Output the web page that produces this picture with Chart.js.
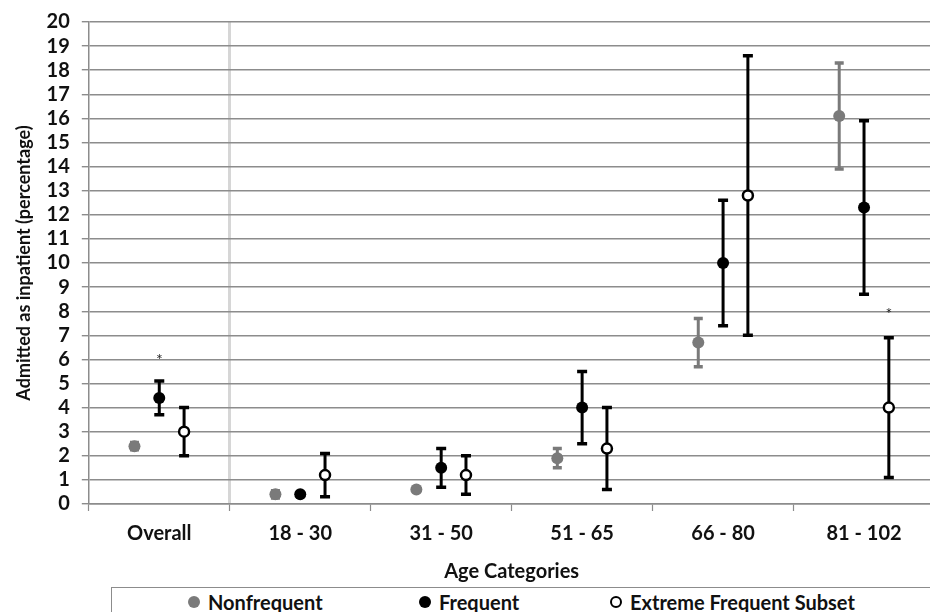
<!DOCTYPE html>
<html>
<head>
<meta charset="utf-8">
<script src="https://cdn.jsdelivr.net/npm/chart.js@4.4.1/dist/chart.umd.min.js"></script>
<style>
  body { margin: 0; background: #fff; overflow: hidden; width: 930px; height: 612px; position: relative; }
  #wrap { position: absolute; left: 0; top: 0; width: 942px; height: 585px; }
  #legend { position: absolute; left: 111px; top: 587px; width: 860px; height: 40px;
    border: 1.5px solid #8c8c8c; font: bold 20px Lato, sans-serif; color: #111; }
  .item { position: absolute; top: 2px; display: flex; align-items: center; }
  .dot { width: 12px; height: 12px; border-radius: 50%; margin-right: 8px; box-sizing: border-box; }
</style>
</head>
<body>
<div id="wrap"><canvas id="chart"></canvas></div>
<div id="legend"></div>
<script>
const categories = ["Overall", "18 - 30", "31 - 50", "51 - 65", "66 - 80", "81 - 102"];
const yTicks = [0, 20, 1];

const nonfreq   = [2.4, 0.4, 0.6, 1.9, 6.7, 16.1];
const nonfreqLo = [2.25, 0.25, 0.55, 1.5, 5.7, 13.9];
const nonfreqHi = [2.55, 0.55, 0.65, 2.3, 7.7, 18.3];

const freq   = [4.4, 0.4, 1.5, 4.0, 10.0, 12.3];
const freqLo = [3.7, 0.35, 0.7, 2.5, 7.4, 8.7];
const freqHi = [5.1, 0.45, 2.3, 5.5, 12.6, 15.9];

const extreme   = [3.0, 1.2, 1.2, 2.3, 12.8, 4.0];
const extremeLo = [2.0, 0.3, 0.4, 0.6, 7.0, 1.1];
const extremeHi = [4.0, 2.1, 2.0, 4.0, 18.6, 6.9];

// asterisks: category index, series index, height
const starCat = [0, 5];
const starSeries = [1, 2];
const starY = [6.1, 8.0];

const seriesNames = ["Nonfrequent", "Frequent", "Extreme Frequent Subset"];
const offsets = [-0.176, 0, 0.176];
const gray = "#7a7a7a";
const FONT = "Lato";

function pts(vals, s) {
  return vals.map((v, i) => ({ x: i + offsets[s], y: v }));
}

const errors = [
  { lo: nonfreqLo, hi: nonfreqHi, color: gray, cap: 4.5 },
  { lo: freqLo, hi: freqHi, color: "#000", cap: 5 },
  { lo: extremeLo, hi: extremeHi, color: "#000", cap: 5 },
];

const errorBars = {
  id: "errorBars",
  beforeDatasetsDraw(chart) {
    const { ctx, scales: { x, y } } = chart;
    ctx.save();
    errors.forEach((e, s) => {
      ctx.strokeStyle = e.color;
      e.lo.forEach((lo, i) => {
        const px = x.getPixelForValue(i + offsets[s]);
        const y1 = y.getPixelForValue(lo);
        const y2 = y.getPixelForValue(e.hi[i]);
        ctx.lineWidth = 3;
        ctx.beginPath();
        ctx.moveTo(px, y1); ctx.lineTo(px, y2);
        ctx.stroke();
        ctx.lineWidth = 3.5;
        ctx.beginPath();
        ctx.moveTo(px - e.cap, y1); ctx.lineTo(px + e.cap, y1);
        ctx.moveTo(px - e.cap, y2); ctx.lineTo(px + e.cap, y2);
        ctx.stroke();
      });
    });
    ctx.restore();
  },
  afterDatasetsDraw(chart) {
    const { ctx, scales: { x, y } } = chart;
    ctx.save();
    ctx.fillStyle = "#222";
    ctx.font = "16px " + FONT;
    ctx.textAlign = "center";
    ctx.textBaseline = "middle";
    starCat.forEach((c, k) => {
      ctx.fillText("*", x.getPixelForValue(c + offsets[starSeries[k]]), y.getPixelForValue(starY[k]) + 3);
    });
    ctx.restore();
  }
};

new Chart(document.getElementById("chart"), {
  type: "scatter",
  data: {
    datasets: [
      { label: seriesNames[0], data: pts(nonfreq, 0), pointRadius: 6, pointHoverRadius: 6,
        backgroundColor: gray, borderColor: gray, borderWidth: 0 },
      { label: seriesNames[1], data: pts(freq, 1), pointRadius: 6, pointHoverRadius: 6,
        backgroundColor: "#000", borderColor: "#000", borderWidth: 0 },
      { label: seriesNames[2], data: pts(extreme, 2), pointRadius: 5, pointHoverRadius: 5,
        backgroundColor: "#fff", borderColor: "#000", borderWidth: 2.5 },
    ],
  },
  options: {
    responsive: true,
    maintainAspectRatio: false,
    animation: false,
    layout: { padding: { top: 4, right: 0, left: 13, bottom: 1 } },
    plugins: { legend: { display: false }, tooltip: { enabled: false } },
    scales: {
      x: {
        type: "linear",
        min: -0.5,
        max: 5.5,
        afterBuildTicks: (scale) => { scale.ticks = categories.map((c, i) => ({ value: i })); },
        ticks: {
          autoSkip: false, maxRotation: 0, padding: 11,
          color: "#111", font: { family: FONT, weight: "bold", size: 20 },
          callback: (v, i) => categories[i],
        },
        grid: {
          offset: true,
          drawOnChartArea: true,
          color: (c) => (c.index === 1 ? "#d6d6d6" : "rgba(0,0,0,0)"),
          lineWidth: (c) => (c.index === 1 ? 3 : 1),
          tickColor: "#8c8c8c",
          tickWidth: 1.2,
          tickLength: 7,
        },
        border: { color: "#8c8c8c", width: 1.5 },
        title: {
          display: true, text: "Age Categories", color: "#111",
          font: { family: FONT, weight: "bold", size: 20 }, padding: { top: 3, bottom: 0 },
        },
      },
      y: {
        min: yTicks[0],
        max: yTicks[1],
        ticks: {
          stepSize: yTicks[2], autoSkip: false, padding: 12, color: "#111",
          font: { family: FONT, weight: "bold", size: 20, lineHeight: 1 },
        },
        grid: { color: "#8c8c8c", lineWidth: 1.4, tickLength: 7 },
        border: { color: "#8c8c8c", width: 1.5 },
        title: {
          display: true, text: "Admitted as inpatient (percentage)", color: "#111",
          font: { family: FONT, weight: "bold", size: 18 }, padding: { top: 0, bottom: 0 },
        },
      },
    },
  },
  plugins: [errorBars],
});

// legend below the chart
const legendEl = document.getElementById("legend");
const legendLeft = [76, 307, 498];
const dotStyle = [
  "background:" + gray,
  "background:#000",
  "background:#fff;border:2.5px solid #000",
];
seriesNames.forEach((name, i) => {
  legendEl.innerHTML += `<div class="item" style="left:${legendLeft[i]}px">
<span class="dot" style="${dotStyle[i]}"></span><span>${name}</span></div>`;
});
</script>
</body>
</html>
